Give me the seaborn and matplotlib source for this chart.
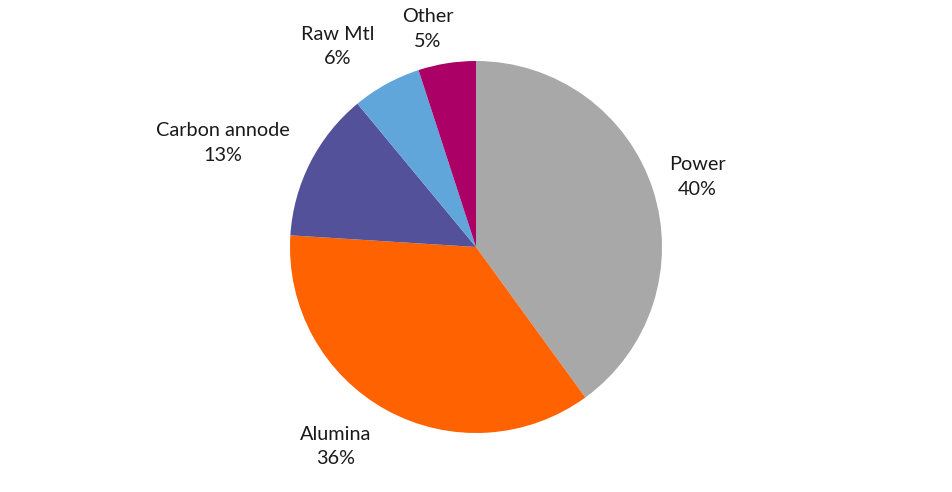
import numpy as np
import matplotlib
matplotlib.use("Agg")
import matplotlib.pyplot as plt
import seaborn as sns

# DATA
categories = ['Power', 'Alumina', 'Carbon annode', 'Raw Mtl', 'Other']
shares = [40, 36, 13, 6, 5]

# Styling / layout
colors = ['#A8A8A8', '#FF6200', '#525199', '#60A6DA', '#AB0066']
# per-label tweak: (angle shift in degrees, distance in radii)
label_tweaks = [(-0.4, 1.25), (-6.3, 1.31), (4.6, 1.47), (5.8, 1.31), (3.5, 1.2)]

sns.set_theme(style='white')
plt.rcParams['font.family'] = ['Lato', 'DejaVu Sans']

fig = plt.figure(figsize=(9.52, 4.92), dpi=100)
ax = fig.add_axes([290 / 952, 59 / 492, 372 / 952, 372 / 492])

wedges, _ = ax.pie(shares, colors=sns.color_palette(colors), startangle=90,
                   counterclock=False, radius=1.0,
                   wedgeprops=dict(linewidth=0))

# Labels placed around the wedge mid angles
for w, name, val, (dang, dist) in zip(wedges, categories, shares, label_tweaks):
    mid = np.deg2rad((w.theta1 + w.theta2) / 2 + dang)
    x = dist * np.cos(mid)
    y = dist * np.sin(mid)
    ax.text(x, y, f'{name}\n{val}%', ha='center', va='center',
            fontsize=14.3, color='#1a1a1a', linespacing=1.55)

ax.set_xlim(-1, 1)
ax.set_ylim(-1, 1)
ax.set_aspect('equal')
ax.axis('off')

fig.savefig('out.png', dpi=100)
